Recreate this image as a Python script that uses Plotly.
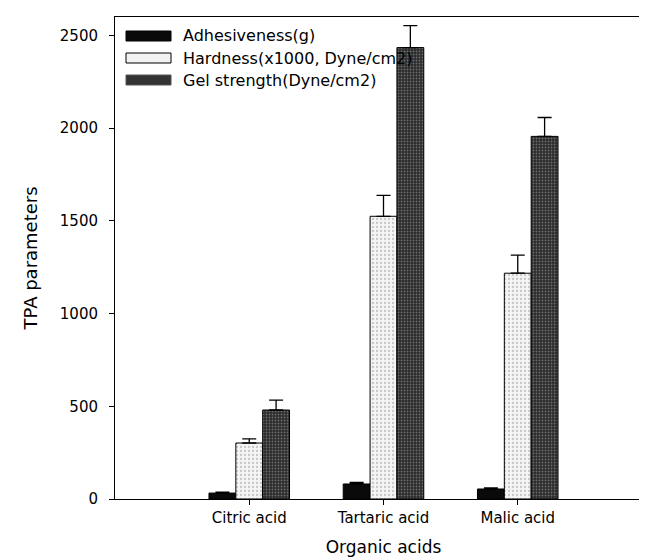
import plotly.graph_objects as go

categories = ["Citric acid", "Tartaric acid", "Malic acid"]
cat_pos = [1, 2, 3]
series_names = ["Adhesiveness(g)", "Hardness(x1000, Dyne/cm2)", "Gel strength(Dyne/cm2)"]
adhesiveness = [32, 81, 54]
adhesiveness_err = [5, 8, 6]
hardness = [302, 1525, 1218]
hardness_err = [22, 113, 97]
gel_strength = [480, 2435, 1956]
gel_strength_err = [53, 119, 102]
y_ticks = [0, 500, 1000, 1500, 2000, 2500]

FONT = "DejaVu Sans, Verdana, sans-serif"

W, H = 647, 560
ML, MR, MT, MB = 107, 3, 9, 69
PW, PH = W - ML - MR, H - MT - MB

fills = ["#0a0a0a", "#f2f2f2", "#333333"]
patterns = [
    None,
    dict(shape=".", fgcolor="#9a9a9a", bgcolor="#f4f4f4", size=4, solidity=0.25),
    dict(shape=".", fgcolor="#b0b0b0", bgcolor="#2a2a2a", size=3, solidity=0.3),
]
swatch_lines = ["#000000", "#000000", "#555555"]

fig = go.Figure()
for name, vals, errs, col, pat in zip(series_names,
                                      [adhesiveness, hardness, gel_strength],
                                      [adhesiveness_err, hardness_err, gel_strength_err],
                                      fills, patterns):
    marker = dict(color=col, line=dict(color="#000000", width=1))
    if pat:
        marker["pattern"] = pat
    fig.add_trace(go.Bar(
        x=cat_pos, y=vals, name=name, marker=marker, showlegend=False,
        error_y=dict(type="data", array=errs, arrayminus=[0] * len(errs), symmetric=False,
                     color="#000000", thickness=1.3, width=7),
    ))

# Legend drawn as paper-anchored swatches and text (pixel layout -> paper fractions)
def px_x(p):
    return (p - ML) / PW

def px_y(p):
    return (H - MB - p) / PH

row_centers = [28, 50, 72]
sw_left, sw_right, sw_half = 118, 163, 5
text_left = 173
shapes = []
annotations = []
for name, col, lc, cy in zip(series_names, fills, swatch_lines, row_centers):
    shapes.append(dict(type="rect", xref="paper", yref="paper",
                       x0=px_x(sw_left), x1=px_x(sw_right),
                       y0=px_y(cy + sw_half), y1=px_y(cy - sw_half),
                       fillcolor=col, line=dict(color=lc, width=1)))
    annotations.append(dict(xref="paper", yref="paper", x=px_x(text_left), y=px_y(cy),
                            xanchor="left", yanchor="middle", showarrow=False,
                            text=name, font=dict(family=FONT, size=16, color="#000")))

fig.update_layout(
    width=W, height=H,
    margin=dict(l=ML, r=MR, t=MT, b=MB),
    paper_bgcolor="white", plot_bgcolor="white",
    barmode="group", bargap=0.4, bargroupgap=0,
    font=dict(family=FONT, size=15, color="#000000"),
    showlegend=False,
    shapes=shapes, annotations=annotations,
    xaxis=dict(range=[0, 4], tickvals=cat_pos, ticktext=categories,
               ticks="outside", ticklen=5, tickcolor="#000", showgrid=False,
               showline=True, linecolor="#000", linewidth=1, mirror=True,
               zeroline=False, tickfont=dict(size=15),
               title=dict(text="Organic acids", font=dict(size=17), standoff=15)),
    yaxis=dict(range=[0, 2600], tickvals=y_ticks, ticks="outside", ticklen=5,
               ticklabelstandoff=8,
               tickcolor="#000", showgrid=False, showline=True, linecolor="#000",
               linewidth=1, mirror=True, zeroline=False, tickfont=dict(size=15),
               title=dict(text="TPA parameters", font=dict(size=18), standoff=17)),
)

fig.write_html("out.html")
